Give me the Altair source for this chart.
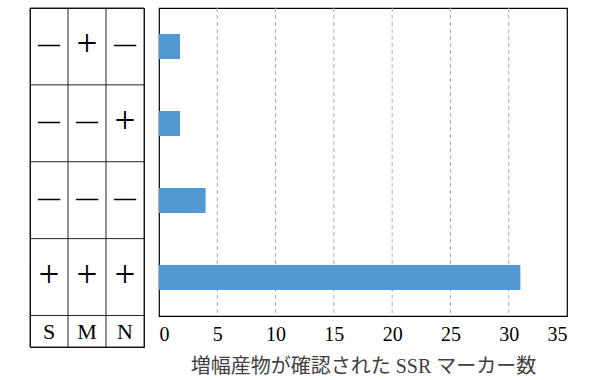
import altair as alt
import pandas as pd

# ---- data ----
groups = ["−+−", "−−+", "−−−", "+++"]
s_signs = ["−", "−", "−", "+"]
m_signs = ["+", "−", "−", "+"]
n_signs = ["−", "+", "−", "+"]
columns = ["S", "M", "N"]
counts = [1.8, 1.8, 4, 31]
x_ticks = [0, 5, 10, 15, 20, 25, 30, 35]
grid_values = [5, 10, 15, 20, 25, 30]
label_row = 0.41  # relative height of the S/M/N label row

SERIF = "'Liberation Serif', 'Times New Roman', 'DejaVu Serif', serif"
BAR_COLOR = "#5299d3"

# ---- table data ----
cells = []
for i, g in enumerate(groups):
    for j, signs in enumerate([s_signs, m_signs, n_signs]):
        cells.append({"col": j + 0.5, "row": i + 0.5, "sign": signs[i]})
cells_df = pd.DataFrame(cells)
head_df = pd.DataFrame({"col": [j + 0.5 for j in range(len(columns))],
                        "row": [len(groups) + label_row / 2] * len(columns),
                        "label": columns})
n_rows = len(groups)
total = n_rows + label_row
vlines = pd.DataFrame({"x": list(range(len(columns) + 1)), "y": [0] * 4, "y2": [total] * 4})
hlines = pd.DataFrame({"y": list(range(n_rows + 1)) + [total],
                       "x": [0] * (n_rows + 2), "x2": [len(columns)] * (n_rows + 2)})

xs = alt.Scale(domain=[0, len(columns)], nice=False, zero=False)
ys = alt.Scale(domain=[0, total], nice=False, zero=False, reverse=True)

v_rule = alt.Chart(vlines).mark_rule(color="#222", strokeWidth=1).encode(
    x=alt.X("x:Q", scale=xs, axis=None),
    y=alt.Y("y:Q", scale=ys, axis=None),
    y2="y2:Q")
h_rule = alt.Chart(hlines).mark_rule(color="#222", strokeWidth=1).encode(
    x=alt.X("x:Q", scale=xs, axis=None),
    x2="x2:Q",
    y=alt.Y("y:Q", scale=ys, axis=None))
plus_txt = alt.Chart(cells_df).transform_filter("datum.sign == '+'").mark_text(
    font=SERIF, fontSize=37, color="black", baseline="middle", dy=-1).encode(
    x=alt.X("col:Q", scale=xs, axis=None),
    y=alt.Y("row:Q", scale=ys, axis=None),
    text="sign:N")
minus_txt = alt.Chart(cells_df).transform_filter("datum.sign != '+'").mark_text(
    font=SERIF, fontSize=22, fontWeight="bold", color="black", baseline="middle", dy=-2).encode(
    x=alt.X("col:Q", scale=xs, axis=None),
    y=alt.Y("row:Q", scale=ys, axis=None),
    text=alt.value("—"))
head_txt = alt.Chart(head_df).mark_text(
    font=SERIF, fontSize=22, color="black", baseline="middle", dy=1).encode(
    x=alt.X("col:Q", scale=xs, axis=None),
    y=alt.Y("row:Q", scale=ys, axis=None),
    text="label:N")

table = alt.layer(v_rule, h_rule, plus_txt, minus_txt, head_txt).properties(
    width=114, height=339, view=alt.ViewBackground(stroke="black", strokeWidth=1))

# ---- bar chart ----
bar_df = pd.DataFrame({"group": groups, "count": counts})
grid_df = pd.DataFrame({"v": grid_values})

bx = alt.Scale(domain=[0, 35], nice=False, zero=True)
grid = alt.Chart(grid_df).mark_rule(color="#aaaaaa", strokeDash=[4, 3], strokeWidth=1).encode(
    x=alt.X("v:Q", scale=bx))
bars = alt.Chart(bar_df).mark_bar(size=25, color=BAR_COLOR).encode(
    x=alt.X("count:Q", scale=bx,
            axis=alt.Axis(values=x_ticks, grid=False, ticks=False, domain=False,
                          labelFont=SERIF, labelFontSize=20, labelColor="black",
                          labelPadding=8,
                          title="増幅産物が確認された SSR マーカー数",
                          titleFont="'Liberation Serif', 'Times New Roman', 'Noto Sans CJK JP', serif",
                          titleFontSize=20, titleFontWeight="normal",
                          titleColor="#404040", titlePadding=12)),
    y=alt.Y("group:N", sort=groups,
            scale=alt.Scale(paddingInner=0, paddingOuter=0), axis=None))

barchart = alt.layer(grid, bars).properties(
    width=408, height=308, view=alt.ViewBackground(stroke="black", strokeWidth=1.2))

chart = alt.hconcat(table, barchart, spacing=15, bounds="flush").properties(
    padding={"left": 29, "top": 6, "right": 5, "bottom": 0}
).configure_view(stroke="black", strokeWidth=1.2).configure(background="white")

chart.save("out.html", embed_options={"renderer": "svg", "actions": False})
